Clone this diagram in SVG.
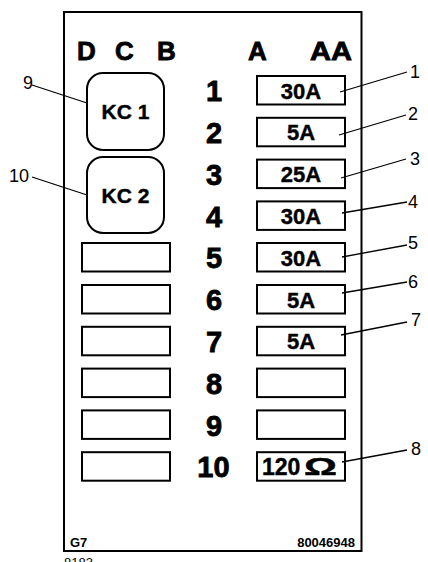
<svg xmlns="http://www.w3.org/2000/svg" width="428" height="562" viewBox="0 0 428 562">
<style>
.frame{fill:none;stroke:#000;stroke-width:2}
.box{fill:#fff;stroke:#000;stroke-width:2}
.hdr{font-family:"Liberation Sans",Arial,sans-serif;font-weight:bold;font-size:26px;fill:#000;stroke:#000;stroke-width:0.8}
.num{font-family:"Liberation Sans",Arial,sans-serif;font-weight:bold;font-size:29px;fill:#000;text-anchor:middle;stroke:#000;stroke-width:0.8}
.val{font-family:"Liberation Sans",Arial,sans-serif;font-weight:bold;font-size:22px;fill:#000;text-anchor:middle;stroke:#000;stroke-width:0.4}
.kc{font-family:"Liberation Sans",Arial,sans-serif;font-weight:bold;font-size:21px;fill:#000;text-anchor:middle;stroke:#000;stroke-width:0.4}
.lbl{font-family:"Liberation Sans",Arial,sans-serif;font-size:18px;fill:#000}
.small{font-family:"Liberation Sans",Arial,sans-serif;font-weight:bold;font-size:13px;fill:#000}
.leader{fill:none;stroke:#000;stroke-width:1.3}
</style>
<rect width="428" height="562" fill="#fff"/>
<g id="frame">
<rect class="frame" x="64" y="12" width="297.5" height="539"/>
<text class="hdr" x="77" y="59.5">D</text>
<text class="hdr" x="115" y="59.5">C</text>
<text class="hdr" x="157" y="59.5">B</text>
<text class="hdr" x="248" y="59.5">A</text>
<text class="hdr" transform="translate(310,59.5) scale(1.12,1)" x="0" y="0">AA</text>
<text class="small" x="70" y="547">G7</text>
<text class="small" x="355" y="547" text-anchor="end">80046948</text>
</g>
<g id="row-numbers">
<text class="num" x="214" y="101">1</text>
<text class="num" x="214" y="143">2</text>
<text class="num" x="214" y="184.5">3</text>
<text class="num" x="214" y="226.5">4</text>
<text class="num" x="214" y="268">5</text>
<text class="num" x="214" y="310">6</text>
<text class="num" x="214" y="352">7</text>
<text class="num" x="214" y="393.5">8</text>
<text class="num" x="214" y="435.5">9</text>
<text class="num" x="213.5" y="477">10</text>
</g>
<g id="kc1"><rect class="box" x="87" y="73" width="77" height="77" rx="16"/><text class="kc" x="125.5" y="119">KC 1</text></g>
<g id="kc2"><rect class="box" x="87" y="157" width="77" height="76" rx="16"/><text class="kc" x="125.5" y="202.5">KC 2</text></g>
<g id="left-5"><rect class="box" x="82" y="243" width="88" height="28.5"/></g>
<g id="left-6"><rect class="box" x="82" y="285" width="88" height="28.5"/></g>
<g id="left-7"><rect class="box" x="82" y="326.8" width="88" height="28.5"/></g>
<g id="left-8"><rect class="box" x="82" y="368.6" width="88" height="28.5"/></g>
<g id="left-9"><rect class="box" x="82" y="410.4" width="88" height="28.5"/></g>
<g id="left-10"><rect class="box" x="82" y="452.2" width="88" height="28.5"/></g>
<g id="fuse-1"><rect class="box" x="257" y="76" width="88" height="28.5"/><text class="val" x="301" y="98.5">30A</text></g>
<g id="fuse-2"><rect class="box" x="257" y="117.8" width="88" height="28.5"/><text class="val" x="301" y="140.3">5A</text></g>
<g id="fuse-3"><rect class="box" x="257" y="159.6" width="88" height="28.5"/><text class="val" x="301" y="182.1">25A</text></g>
<g id="fuse-4"><rect class="box" x="257" y="201.4" width="88" height="28.5"/><text class="val" x="301" y="223.9">30A</text></g>
<g id="fuse-5"><rect class="box" x="257" y="243" width="88" height="28.5"/><text class="val" x="301" y="265.5">30A</text></g>
<g id="fuse-6"><rect class="box" x="257" y="285" width="88" height="28.5"/><text class="val" x="301" y="307.5">5A</text></g>
<g id="fuse-7"><rect class="box" x="257" y="326.8" width="88" height="28.5"/><text class="val" x="301" y="349.3">5A</text></g>
<g id="fuse-8"><rect class="box" x="257" y="368.6" width="88" height="28.5"/></g>
<g id="fuse-9"><rect class="box" x="257" y="410.4" width="88" height="28.5"/></g>
<g id="resistor-10"><rect class="box" x="257" y="452.2" width="88" height="28.5"/><text class="val" x="262" y="475" style="text-anchor:start;font-size:23px">120<tspan x="304" textLength="33" lengthAdjust="spacingAndGlyphs">Ω</tspan></text></g>
<g id="connectors">
<line class="leader" x1="340" y1="92" x2="407" y2="72"/>
<line class="leader" x1="339" y1="135" x2="406" y2="115"/>
<line class="leader" x1="341" y1="178" x2="406" y2="159"/>
<line class="leader" x1="342" y1="213" x2="407" y2="202"/>
<line class="leader" x1="342" y1="257" x2="407" y2="245"/>
<line class="leader" x1="342" y1="293" x2="407" y2="282"/>
<line class="leader" x1="341" y1="335" x2="407" y2="322"/>
<line class="leader" x1="342" y1="462" x2="407" y2="450"/>
<line class="leader" x1="32" y1="85" x2="87" y2="103"/>
<line class="leader" x1="32" y1="177" x2="87" y2="195"/>
</g>
<g id="callouts">
<text class="lbl" x="410" y="78">1</text>
<text class="lbl" x="408" y="120">2</text>
<text class="lbl" x="410" y="165">3</text>
<text class="lbl" x="408" y="208">4</text>
<text class="lbl" x="408" y="249">5</text>
<text class="lbl" x="408" y="288">6</text>
<text class="lbl" x="411" y="326">7</text>
<text class="lbl" x="411" y="455">8</text>
<text class="lbl" x="33" y="89" text-anchor="end">9</text>
<text class="lbl" x="29" y="182" text-anchor="end">10</text>
</g>
<text x="64" y="566.5" style="font-family:'Liberation Sans',Arial,sans-serif;font-size:13px;fill:#000">8183</text>
</svg>
